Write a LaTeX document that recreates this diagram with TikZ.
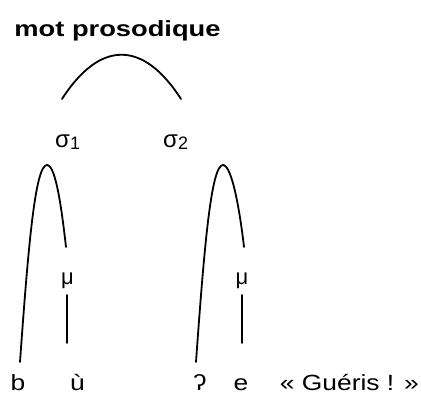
\documentclass[tikz,border=0pt]{standalone}
\usepackage{fontspec}
\setmainfont{Liberation Sans}
\newcommand{\wide}[1]{\scalebox{1.2}[1]{#1}}
\begin{document}
\begin{tikzpicture}[x=1pt,y=-1pt,
  txt/.style={inner sep=0pt,anchor=base,font=\fontsize{22}{24}\selectfont},
  sig/.style={inner sep=0pt,anchor=base west,font=\fontsize{24}{26}\selectfont},
  arc/.style={line width=1.8pt,line cap=round}]
\useasboundingbox (0,0) rectangle (421,394);
\node[inner sep=0pt,anchor=base,font=\fontsize{22}{24}\selectfont\bfseries] (title) at (117.5,36) {\scalebox{1.24}[1]{mot prosodique}};
\node[sig] (s1) at (55,147) {σ\raisebox{-2pt}{\fontsize{18}{20}\selectfont 1}};
\node[sig] (s2) at (163,147) {σ\raisebox{-2pt}{\fontsize{18}{20}\selectfont 2}};
\node[txt] (mu1) at (67.5,284) {μ};
\node[txt] (mu2) at (242,284) {μ};
\node[txt] (b) at (18,390) {\wide{b}};
\node[txt] (u) at (77.5,390) {\wide{ù}};
\node[txt] (q) at (200,390) {\wide{ʔ}};
\node[txt] (e) at (241,390) {\wide{e}};
\node[txt,anchor=base east] (gl) at (419,390) {\wide{« Guéris ! »}};
\coordinate (t1) at (62,99);
\coordinate (t2) at (181,99);
\coordinate (a1) at (20,362);
\coordinate (a2) at (66,247);
\coordinate (c1) at (196,362);
\coordinate (c2) at (244,247);
\coordinate (m1a) at (67,295);
\coordinate (m1b) at (67,343);
\coordinate (m2a) at (242,295);
\coordinate (m2b) at (242,343);
\draw[arc] (t1) .. controls (100,40) and (143,40) .. (t2);
\draw[arc] (a1) .. controls (28,250) and (35,165) .. (47,165) .. controls (56,165) and (62,212) .. (a2);
\draw[arc] (c1) .. controls (204,250) and (211,165) .. (223,165) .. controls (232,165) and (240,212) .. (c2);
\draw[arc] (m1a) -- (m1b);
\draw[arc] (m2a) -- (m2b);
\end{tikzpicture}
\end{document}
